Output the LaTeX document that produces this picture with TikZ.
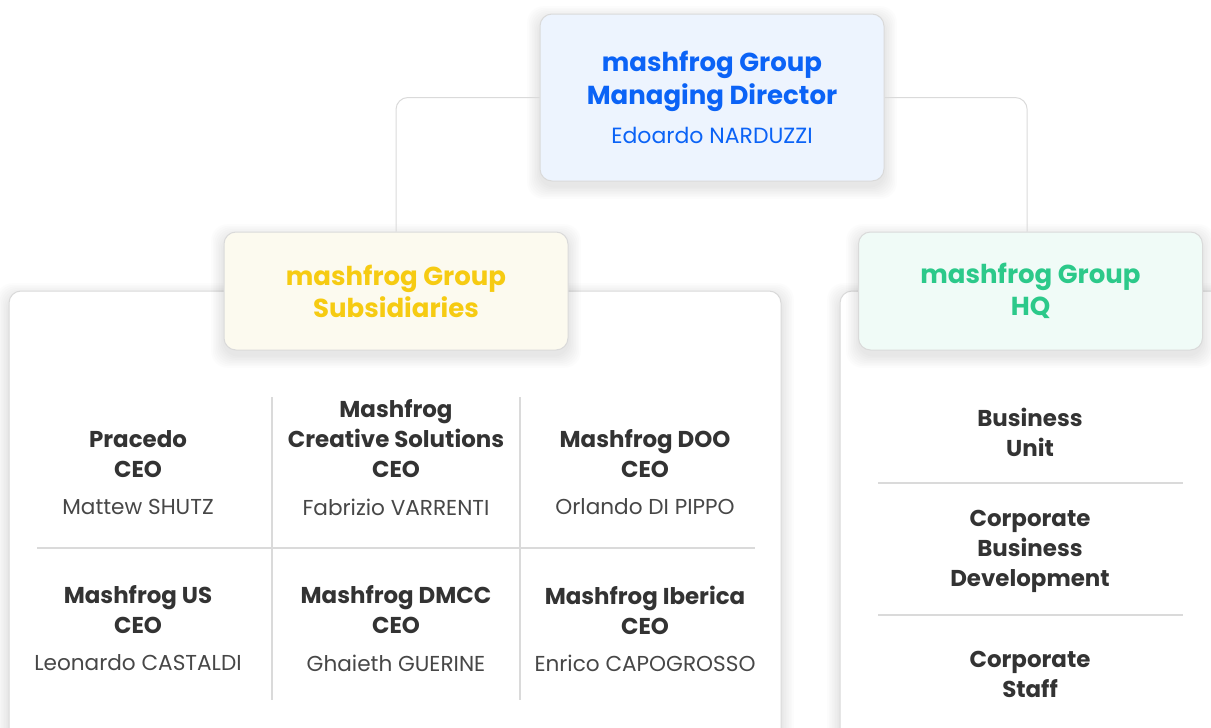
\documentclass[tikz,border=0pt]{standalone}
\usepackage{fontspec}
\setmainfont{Poppins}
\usetikzlibrary{positioning}
\definecolor{mblue}{HTML}{0B63F6}
\definecolor{myellow}{HTML}{F6CB12}
\definecolor{mgreen}{HTML}{2CC98A}
\definecolor{mtext}{HTML}{333333}
\definecolor{mname}{HTML}{474747}
\definecolor{mline}{HTML}{DADADA}
\definecolor{fblue}{HTML}{EDF4FE}
\definecolor{fyellow}{HTML}{FCFAEF}
\definecolor{fgreen}{HTML}{F0FBF7}

% soft shadow behind a box: corners in px
\newcommand{\softshade}[4]{%
  \foreach \k in {1,...,8}
    \fill[black, opacity=0.012, rounded corners=12pt]
      (#1-\k*1.6, #2-\k*1.6+5) rectangle (#3+\k*1.6, #4+\k*1.6+5);
}

\tikzset{
  headbox/.style={draw=mline, line width=0.75pt, rounded corners=9pt, align=center,
    minimum width=258pt, font=\fontsize{19.5}{24}\selectfont\bfseries},
  panel/.style={draw=mline, line width=0.75pt, fill=white, rounded corners=9pt},
  link/.style={draw=mline, line width=0.75pt, rounded corners=9pt},
  rule/.style={draw=mline, line width=0.9pt},
  role/.style={align=center, text=mtext, font=\fontsize{17.2}{22.5}\selectfont\bfseries},
  who/.style={text=mname, font=\fontsize{16.2}{18}\selectfont},
}

\begin{document}
\begin{tikzpicture}[x=0.75pt, y=-0.75pt]
  \useasboundingbox (0,0) rectangle (1211,728);
  \clip (0,0) rectangle (1211,728);

  % panels
  \softshade{9}{291}{781}{760}
  \softshade{840}{291}{1240}{760}
  \path[panel] (9,291) rectangle (781,760);
  \path[panel] (840,291) rectangle (1240,760);

  % header boxes
  \softshade{540}{14}{884}{181}
  \softshade{224}{232}{568}{350}
  \softshade{859}{232}{1202}{350}
  \node[headbox, fill=fblue, text=mblue, minimum height=125.25pt,
    font=\fontsize{19.5}{24.75}\selectfont\bfseries] (top) at (712,97.5)
    {mashfrog Group\\Managing Director\\[4pt]{\fontsize{16.5}{20}\selectfont\mdseries Edoardo NARDUZZI}};
  \node[headbox, fill=fyellow, text=myellow, minimum height=88.5pt] (subs) at (396,291)
    {mashfrog Group\\Subsidiaries};
  \node[headbox, fill=fgreen, text=mgreen, minimum height=88.5pt] (hq) at (1030.5,291)
    {mashfrog Group\\HQ};

  \path[link] (top.west) -| (subs.north);
  \path[link] (top.east) -| ([xshift=-2.5pt]hq.north);

  % subsidiaries grid
  \path[rule] (272,397) -- (272,700);
  \path[rule] (520,397) -- (520,700);
  \path[rule] (37,548) -- (755,548);

  \node[role] (pracedo) at (138,454) {Pracedo\\CEO};
  \node[who] (pracedoceo) at (138,507) {Mattew SHUTZ};
  \node[role] (creative) at (396,439) {Mashfrog\\Creative Solutions\\CEO};
  \node[who] (creativeceo) at (396,507) {Fabrizio VARRENTI};
  \node[role] (doo) at (645,454) {Mashfrog DOO\\CEO};
  \node[who] (dooceo) at (645,507) {Orlando DI PIPPO};

  \node[role] (us) at (138,610) {Mashfrog US\\CEO};
  \node[who] (usceo) at (138,663) {Leonardo CASTALDI};
  \node[role] (dmcc) at (396,610) {Mashfrog DMCC\\CEO};
  \node[who] (dmccceo) at (396,663) {Ghaieth GUERINE};
  \node[role] (iberica) at (645,610) {Mashfrog Iberica\\CEO};
  \node[who] (ibericaceo) at (645,663) {Enrico CAPOGROSSO};

  % hq list
  \node[role] (unit) at (1030,432) {Business\\Unit};
  \path[rule] (878,483) -- (1183,483);
  \node[role] (bizdev) at (1030,551) {Corporate\\Business\\Development};
  \path[rule] (878,615) -- (1183,615);
  \node[role] (staff) at (1030,674) {Corporate\\Staff};
\end{tikzpicture}
\end{document}
